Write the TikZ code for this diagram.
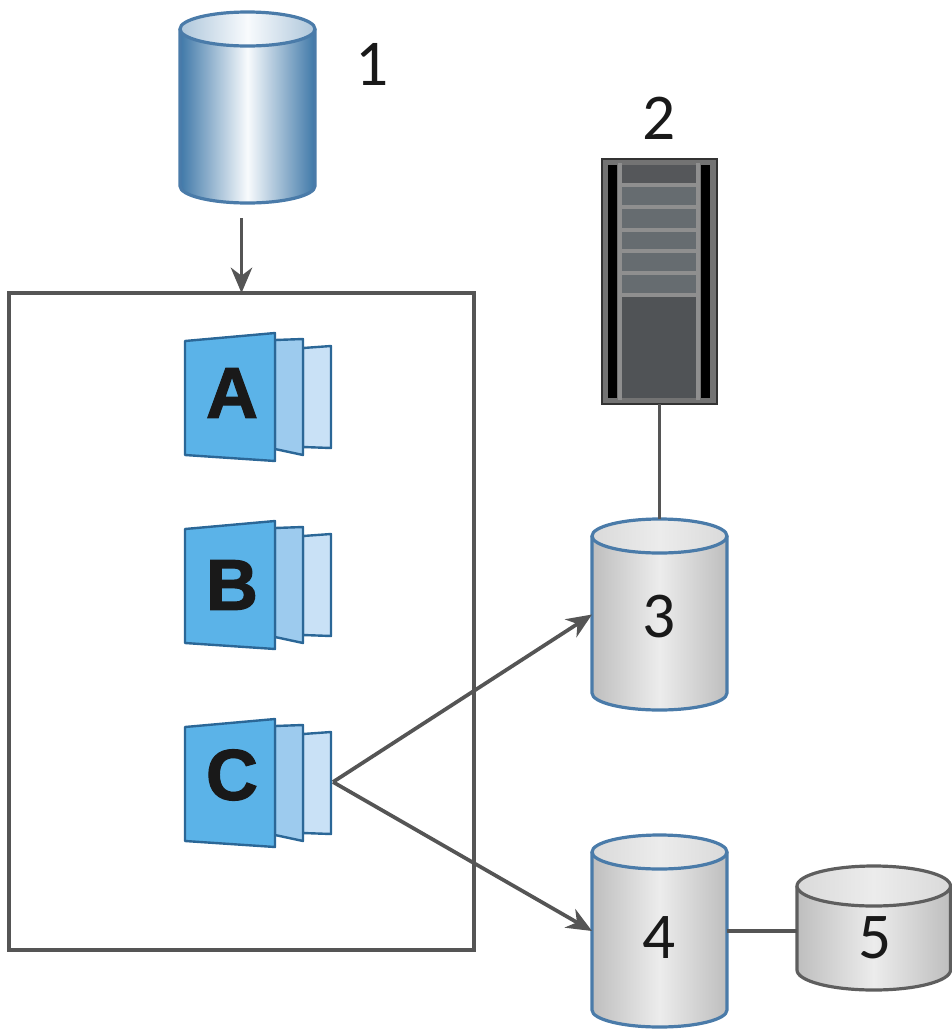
\documentclass[tikz,border=0pt]{standalone}
\usepackage{fontspec}
\setmainfont{Carlito}
\newfontfamily\lettersfont[BoldFeatures={FakeBold=1.6}]{Liberation Sans}
\usetikzlibrary{arrows.meta,fit}
\definecolor{linegray}{HTML}{555555}
\definecolor{rimblue}{HTML}{4A7BA9}
\definecolor{deepblue}{HTML}{3F78A8}
\definecolor{paleblue}{HTML}{BCD6EA}
\definecolor{rimgray}{HTML}{5E5E5E}
\definecolor{silverA}{HTML}{BEBEBE}
\definecolor{silverB}{HTML}{ECECEC}
\definecolor{pageA}{HTML}{5BB3E8}
\definecolor{pageB}{HTML}{9DCBEE}
\definecolor{pageC}{HTML}{C9E1F6}
\definecolor{pageline}{HTML}{2B6797}
\definecolor{rackband}{HTML}{55575A}
\definecolor{rackrow}{HTML}{666C70}
\definecolor{racklow}{HTML}{505356}
\definecolor{rackline}{HTML}{8F8F8F}
\tikzset{
  x=0.75pt,y=-0.75pt,
  link/.style={draw=linegray,line width=2.8pt},
  arrowlink/.style={link,-{Stealth[length=19pt,width=16pt,inset=6pt]}},
  anchorbox/.style={inner sep=0pt,outer sep=0pt},
  digit/.style={inner sep=0pt,font=\fontsize{49}{49}\selectfont,text=black!90},
  pageletter/.style={inner sep=0pt,font=\lettersfont\bfseries\fontsize{54}{54}\selectfont,text=black!90},
  frontpage/.style={fill=pageA,draw=pageline,line width=1.8pt,line join=round},
  midpage/.style={fill=pageB,draw=pageline,line width=1.8pt,line join=round},
  backpage/.style={fill=pageC,draw=pageline,line width=1.8pt,line join=round},
  rackstroke/.style={draw=rackline,line width=2.4pt},
}
% name, x1, x2, top ellipse centre, bottom ellipse centre, ry, rim, side colour, mid colour
\newcommand{\drumshape}[9]{%
  \pgfmathsetmacro{\drumrx}{(#3-#2)/2}%
  \pgfmathsetmacro{\drumcx}{(#3+#2)/2}%
  \path[left color=#8,right color=#8,middle color=#9]
    (#2,#4) -- (#2,#5) arc[start angle=180,end angle=0,x radius=\drumrx,y radius=#6] -- (#3,#4) arc[start angle=0,end angle=180,x radius=\drumrx,y radius=#6] -- cycle;
  \draw[#7,line width=2.4pt,line join=round]
    (#2,#4) -- (#2,#5) arc[start angle=180,end angle=0,x radius=\drumrx,y radius=#6] -- (#3,#4);
  \path[left color=#9!60!#8,right color=#9!60!#8,middle color=#9]
    (\drumcx,#4) ellipse[x radius=\drumrx,y radius=#6];
  \draw[#7,line width=2.4pt] (\drumcx,#4) ellipse[x radius=\drumrx,y radius=#6];
  \pgfmathsetmacro{\drumtop}{#4-#6}%
  \pgfmathsetmacro{\drumbot}{#5+#6}%
  \node[anchorbox,fit={(#2,\drumtop)(#3,\drumbot)}] (#1) {};%
}
% name, vertical offset, letter, letter centre
\newcommand{\pagestack}[4]{%
  \begin{scope}[yshift=-#2*0.75pt]
    \draw[backpage] (303,348) -- (331,346) -- (331,448) -- (303,447) -- cycle;
    \draw[midpage] (275,340) -- (303,339) -- (303,455) -- (275,449) -- cycle;
    \draw[frontpage] (185,341) -- (275,333) -- (275,461) -- (185,455) -- cycle;
    \node[anchorbox,fit={(185,333)(331,461)}] (#1) {};
    \node[pageletter] (#1letter) at (232,#4) {#3};
  \end{scope}%
}
\begin{document}
\begin{tikzpicture}
\useasboundingbox (0,0) rectangle (951,1029);
% frame
\node[anchorbox,draw=linegray,line width=3.4pt,fit={(9,293)(474,950)}] (frame) {};
% cylinders
\drumshape{source}{180}{315}{29}{186}{17}{rimblue}{deepblue}{white!90!paleblue}
\drumshape{volthree}{592}{727}{536}{693}{17}{rimblue}{silverA}{silverB}
\drumshape{volfour}{592}{727}{852}{1010}{17}{rimblue}{silverA}{silverB}
\drumshape{volfive}{797}{950.5}{886}{970}{20}{rimgray}{silverA}{silverB}
% server
\node[anchorbox,draw=black!80,fill=black!55,line width=2pt,fit={(602,159)(717,404)}] (server) {};
\fill[black] (608,165) rectangle (617,398);
\fill[black] (701,165) rectangle (710,398);
\fill[rackband] (620,165) rectangle (698,185);
\fill[rackrow] (620,185) rectangle (698,295);
\fill[racklow] (620,295) rectangle (698,398);
\draw[rackstroke] (620,163) -- (620,400) (698,163) -- (698,400);
\foreach \rowy in {185,207,230,251,273,295}
  \draw[rackstroke] (620,\rowy) -- (698,\rowy);
% page stacks
\pagestack{stackA}{0}{A}{393}
\pagestack{stackB}{188}{B}{397}
\pagestack{stackC}{386}{C}{389}
% connectors
\coordinate (feedstart) at (241.5,218);
\coordinate (fork) at (333,782);
\draw[arrowlink] (feedstart) -- (frame.north);
\draw[link] (server.south) -- (volthree.north);
\draw[arrowlink] (fork) -- (volthree.west);
\draw[arrowlink] (fork) -- (volfour.west);
\draw[link] (volfour.east) -- (volfour.east -| volfive.west);
% labels
\node[digit] (labelone) at (372,64) {1};
\node[digit] (labeltwo) at (659,118) {2};
\node[digit] (labelthree) at (659,617) {3};
\node[digit] (labelfour) at (659,938) {4};
\node[digit] (labelfive) at (875,938) {5};
\end{tikzpicture}
\end{document}
